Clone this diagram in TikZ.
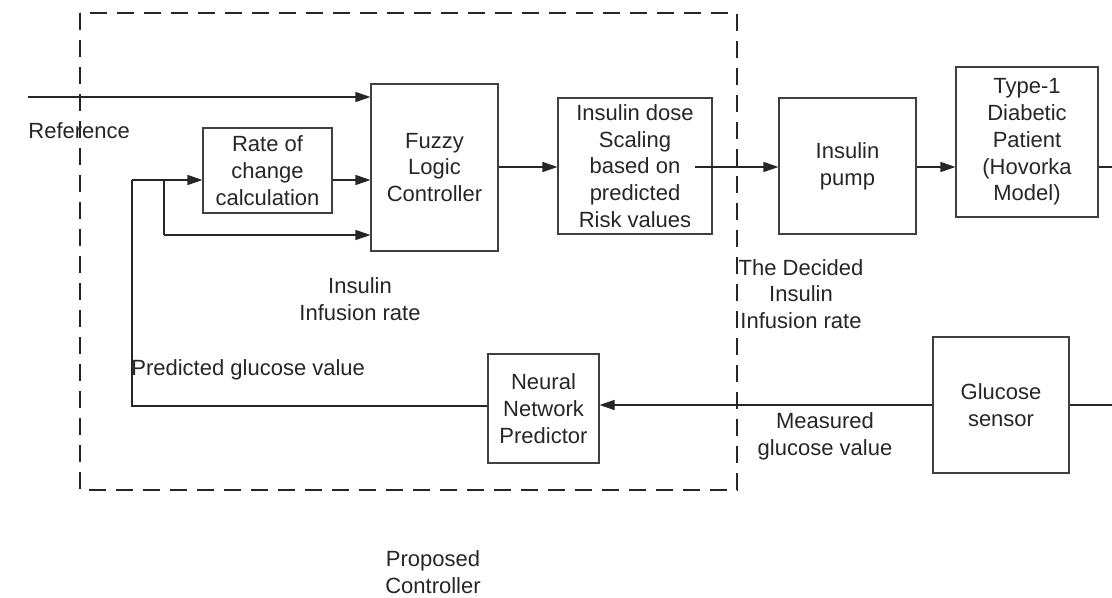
\documentclass[tikz,border=0pt]{standalone}
\usepackage{fontspec}
\setmainfont{Liberation Sans}
\usetikzlibrary{arrows.meta}
\begin{document}
\begin{tikzpicture}[x=0.5pt,y=-0.5pt,
  every node/.style={font=\fontsize{11}{13.4}\selectfont, text=black!85},
  blk/.style={draw=black!75, line width=0.55pt, align=center, inner sep=0pt},
  conn/.style={draw=black!85, line width=0.55pt},
  arr/.style={conn, -{Triangle[length=7.5pt,width=5pt]}},
  lbl/.style={align=center, inner sep=0pt},
  region/.style={draw=black!85, line width=1pt, dash pattern=on 8.5pt off 5pt}]
\useasboundingbox (0,0) rectangle (1112,598);
% dashed controller region
\draw[region] (80,13) rectangle (737,490);
% blocks
\node[blk, minimum width=63.5pt, minimum height=83.5pt] (flc) at (434.5,167.5) {Fuzzy\\Logic\\Controller};
\node[blk, minimum width=64.5pt, minimum height=42.5pt] (rate) at (267.5,170.5) {Rate of\\change\\calculation};
\node[blk, minimum width=77pt, minimum height=68pt] (dose) at (635,166) {Insulin dose\\Scaling\\based on\\predicted\\Risk values};
\node[blk, minimum width=68.5pt, minimum height=68pt] (pump) at (847.5,166) {Insulin\\pump};
\node[blk, minimum width=71pt, minimum height=75pt] (patient) at (1027,142) {Type-1\\Diabetic\\Patient\\(Hovorka\\Model)};
\node[blk, minimum width=68pt, minimum height=68pt] (sensor) at (1001,405) {Glucose\\sensor};
\node[blk, minimum width=55.5pt, minimum height=54.5pt] (nn) at (543.5,408.5) {Neural\\Network\\Predictor};
% coordinates
\coordinate (refstart) at (28,97);
\coordinate (fbtop) at (132,180);
\coordinate (fbbot) at (132,406);
\coordinate (br) at (164,180);
\coordinate (brb) at (164,235);
\coordinate (dosestart) at (695,167);
\coordinate (patout) at (1112,167);
\coordinate (sensin) at (1112,405);
% connectors
\draw[arr] (refstart) -- (flc.west |- refstart);
\draw[arr] (fbtop) -- (rate.west |- fbtop);
\draw[arr] (rate.east |- fbtop) -- (flc.west |- fbtop);
\draw[conn] (br) -- (brb);
\draw[arr] (brb) -- (flc.west |- brb);
\draw[conn] (nn.west |- fbbot) -- (fbbot) -- (fbtop);
\draw[arr] (flc.east |- dosestart) -- (dose.west |- dosestart);
\draw[arr] (dosestart) -- (pump.west |- dosestart);
\draw[arr] (pump.east |- dosestart) -- (patient.west |- dosestart);
\draw[conn] (patient.east |- patout) -- (patout);
\draw[conn] (sensin) -- (sensor.east |- sensin);
\draw[arr] (sensor.west |- sensin) -- (nn.east |- sensin);
% labels
\node[lbl, anchor=west] (lref) at (28,131) {Reference};
\node[lbl] (linf) at (360,299) {Insulin\\Infusion rate};
\node[lbl, anchor=west] (lpred) at (131,370) {Predicted glucose value};
\node[lbl] (ldec) at (801,294) {The Decided\\Insulin\\Infusion rate};
\node[lbl] (lmeas) at (825,436) {Measured\\glucose value};
\node[lbl] (lprop) at (433,572) {Proposed\\Controller};
\end{tikzpicture}
\end{document}
